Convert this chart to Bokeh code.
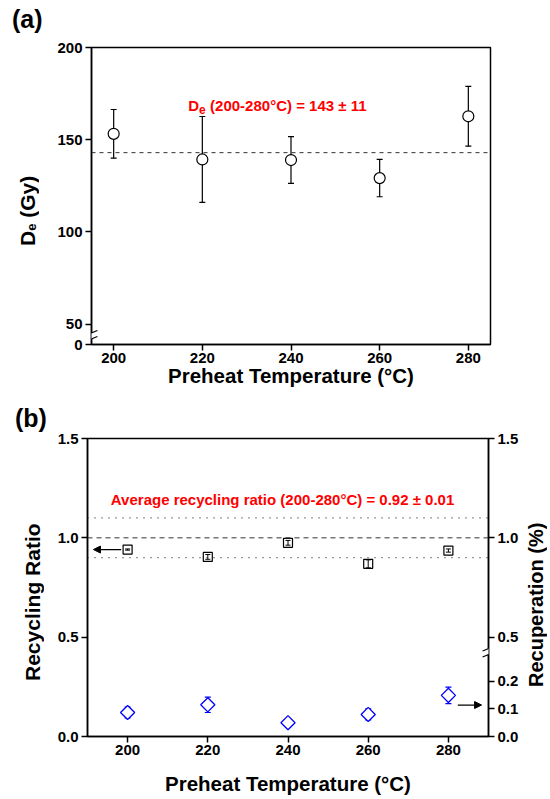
import math
from bokeh.plotting import figure
from bokeh.models import (Range1d, LinearAxis, FixedTicker, Span, Whisker, TeeHead, Label,
                          Arrow, NormalHead, ColumnDataSource, NumeralTickFormatter, Div)
from bokeh.layouts import column, row
from bokeh.embed import file_html
from bokeh.resources import INLINE

# ---------------- data ----------------
temps = [200, 220, 240, 260, 280]
de_values = [153.2, 139.3, 139.0, 129.2, 162.7]
de_errors = [13.2, 23.3, 12.7, 10.1, 16.2]
de_mean = 143
recycling = [0.941, 0.904, 0.975, 0.869, 0.936]
recycling_err = [0.003, 0.012, 0.012, 0.02, 0.008]
recuperation = [0.087, 0.115, 0.050, 0.080, 0.149]
recuperation_err = [0.02, 0.028, 0.012, 0.02, 0.03]
ratio_lines = [0.9, 1.0, 1.1]
x_ticks = [200, 220, 240, 260, 280]
de_ticks = [50, 100, 150, 200]
ratio_ticks = [0.0, 0.5, 1.0, 1.5]
recup_low_ticks = [0.0, 0.1, 0.2]
recup_high_ticks = [0.5, 1.0, 1.5]

# ---------------- layout ----------------
FONT = "Liberation Sans"
A_X = (195, 285)
A_Y = (39.0, 200)          # axis broken: bottom tick shown as "0"
B_X = (190, 290)
B_Y = (0.0, 1.5)
RECUP_SCALE = 0.72          # right-axis lower segment is stretched
RECUP_RANGE = (0.0, 1.5 * RECUP_SCALE)

FW = 406                    # frame width
YLW = 54                    # width of left title column
RLW = 27                    # width of right title column
LA, RA, TA, BA = 30, 52, 47, 54
LB, RB, TB, BB = 30, 31, 40, 62
FHA, FHB = 297, 298
WA, HA = LA + FW + RA, TA + FHA + BA
WB, HB = LB + FW + RB, TB + FHB + BB
AFX, AFY = YLW + LA, TA
BFX, BFY = YLW + LB, HA + TB


def conv(xr, yr, fx, fy, fw, fh):
    def cx(px):
        return xr[0] + (px - fx) / fw * (xr[1] - xr[0])

    def cy(py):
        return yr[1] - (py - fy) / fh * (yr[1] - yr[0])
    return cx, cy


ax_, ay_ = conv(A_X, A_Y, AFX, AFY, FW, FHA)
bx_, by_ = conv(B_X, B_Y, BFX, BFY, FW, FHB)
brx_, bry_ = conv(B_X, RECUP_RANGE, BFX, BFY, FW, FHB)


def lab(p, x, y, text, size, color="black", align="left", **kw):
    p.add_layout(Label(x=x, y=y, text=text, text_font=FONT, text_font_size=f"{size}px",
                       text_font_style="bold", text_color=color,
                       text_align=align, text_baseline="alphabetic", **kw))


def style_axis(a, standoff=3):
    a.axis_line_width = 1.5
    a.axis_line_color = "black"
    a.major_tick_line_width = 1.5
    a.major_tick_line_color = "black"
    a.major_tick_out = 6
    a.major_tick_in = 0
    a.minor_tick_out = 0
    a.minor_tick_in = 0
    a.major_label_text_font = FONT
    a.major_label_text_font_size = "15px"
    a.major_label_text_font_style = "bold"
    a.major_label_text_color = "black"
    a.major_label_standoff = standoff
    a.axis_label_text_font = FONT
    a.axis_label_text_font_size = "20.5px"
    a.axis_label_text_font_style = "bold"
    a.axis_label_text_color = "black"


def base_fig(w, h, l, r, t, b, xr, yr):
    p = figure(width=w, height=h, x_range=Range1d(*xr), y_range=Range1d(*yr), title=None,
               output_backend="svg", toolbar_location=None,
               min_border_left=l, min_border_right=r, min_border_top=t, min_border_bottom=b)
    p.xgrid.visible = False
    p.ygrid.visible = False
    p.outline_line_color = "black"
    p.outline_line_width = 1.5
    p.outline_line_alpha = 1.0
    p.background_fill_color = "white"
    p.border_fill_color = "white"
    return p


def seg(p, x0, y0, x1, y1, color="black", width=1.2, **kw):
    p.add_layout(Arrow(end=None, x_start=x0, y_start=y0, x_end=x1, y_end=y1,
                       line_color=color, line_width=width, **kw))


def axis_break(p, cxf, cyf, px_x, px_y, **kw):
    seg(p, cxf, cyf + 3 * px_y, cxf, cyf - 3 * px_y, color="white", width=3, **kw)
    for dy in (-3, 3):
        seg(p, cxf - 6 * px_x, cyf + (dy - 2.5) * px_y, cxf + 6 * px_x, cyf + (dy + 2.5) * px_y,
            width=1.1, **kw)


def title_column(width, height, head_text, head_h, head_pad, html_text, size,
                 baseline_x, center_y):
    """Html column holding an optional panel tag and a rotated (bottom-to-top) title."""
    parts = []
    top = 0
    if head_text:
        parts.append(f'<div style="height:{head_h}px;box-sizing:border-box;'
                     f'padding:{head_pad[0]}px 0 0 {head_pad[1]}px;line-height:28px;'
                     f'font-family:\'{FONT}\';font-weight:bold;font-size:25px;color:black;'
                     f'white-space:nowrap">{head_text}</div>')
        top = head_h
    w = round(size * 1.15)
    off = (w - 1.117 * size) / 2 + 0.905 * size
    ml = baseline_x - off
    h = 300
    pad = center_y - top - h / 2
    parts.append(f'<div style="padding-top:{pad:.1f}px">'
                 f'<div style="writing-mode:vertical-rl;transform:rotate(180deg);'
                 f'width:{w}px;height:{h}px;margin:0 0 0 {ml:.1f}px;padding:0;'
                 f'text-align:center;white-space:nowrap;line-height:{w}px;'
                 f'font-family:\'{FONT}\';font-weight:bold;font-size:{size}px;color:black">'
                 f'{html_text}</div></div>')
    return Div(text="".join(parts), width=width, height=height, margin=0)


# ================= panel (a) =================
pa = base_fig(WA, HA, LA, RA, TA, BA, A_X, A_Y)
style_axis(pa.xaxis[0], standoff=2)
style_axis(pa.yaxis[0])
pa.xaxis.ticker = FixedTicker(ticks=x_ticks)
pa.yaxis.ticker = FixedTicker(ticks=[A_Y[0]] + de_ticks)
pa.yaxis.major_label_overrides = {A_Y[0]: "0"}
pa.xaxis.axis_label = "Preheat Temperature (°C)"
pa.xaxis.axis_label_standoff = -2

pa.add_layout(Span(location=de_mean, dimension="width", line_dash="4 4",
                   line_color="#333333", line_width=1))

src_a = ColumnDataSource(dict(x=temps, y=de_values,
                              lo=[v - e for v, e in zip(de_values, de_errors)],
                              hi=[v + e for v, e in zip(de_values, de_errors)]))
pa.add_layout(Whisker(base="x", lower="lo", upper="hi", source=src_a, dimension="height",
                      line_color="black", line_width=1.2, level="underlay",
                      lower_head=TeeHead(size=6, line_color="black", line_width=1.2),
                      upper_head=TeeHead(size=6, line_color="black", line_width=1.2)))
pa.scatter("x", "y", source=src_a, marker="circle", size=11, fill_color="white",
           line_color="black", line_width=1.2)

pxA = (A_X[1] - A_X[0]) / FW
pyA = (A_Y[1] - A_Y[0]) / FHA
axis_break(pa, A_X[0], ay_(335.5), pxA, pyA)

# red annotation: D_e (200-280 C) = 143 +- 11
x0 = 182.5
xe = x0 + 0.722 * 15
xr_ = xe + 0.556 * 12 + 0.278 * 15 + 0.5
lab(pa, ax_(x0), ay_(105), "D", 15, color="red")
lab(pa, ax_(xe), ay_(108.5), "e", 12, color="red")
lab(pa, ax_(xr_), ay_(105), f"(200-280°C) = {de_mean} ± 11", 15, color="red")

# ================= panel (b) =================
pb = base_fig(WB, HB, LB, RB, TB, BB, B_X, B_Y)
pb.extra_y_ranges = {"recup": Range1d(*RECUP_RANGE)}
style_axis(pb.xaxis[0], standoff=2)
style_axis(pb.yaxis[0])
pb.xaxis.ticker = FixedTicker(ticks=x_ticks)
pb.yaxis.ticker = FixedTicker(ticks=ratio_ticks)
pb.yaxis.formatter = NumeralTickFormatter(format="0.0")
pb.xaxis.axis_label = "Preheat Temperature (°C)"
pb.xaxis.axis_label_standoff = 14

ax_r = LinearAxis(y_range_name="recup")
style_axis(ax_r)
high_pos = [v * RECUP_SCALE for v in recup_high_ticks]
ax_r.ticker = FixedTicker(ticks=recup_low_ticks + high_pos)
ax_r.formatter = NumeralTickFormatter(format="0.0")
ax_r.major_label_overrides = {hp: f"{v:.1f}" for hp, v in zip(high_pos, recup_high_ticks)}
pb.add_layout(ax_r, "right")

pb.add_layout(Span(location=ratio_lines[0], dimension="width", line_dash="1 6",
                   line_color="#333333", line_width=1.2))
pb.add_layout(Span(location=ratio_lines[2], dimension="width", line_dash="1 6",
                   line_color="#333333", line_width=1.2))
pb.add_layout(Span(location=ratio_lines[1], dimension="width", line_dash="5 4",
                   line_color="#333333", line_width=1))

src_r = ColumnDataSource(dict(x=temps, y=recycling,
                              lo=[v - e for v, e in zip(recycling, recycling_err)],
                              hi=[v + e for v, e in zip(recycling, recycling_err)]))
pb.scatter("x", "y", source=src_r, marker="square", size=9, fill_alpha=0,
           line_color="black", line_width=1.2)
pb.add_layout(Whisker(base="x", lower="lo", upper="hi", source=src_r, dimension="height",
                      line_color="black", line_width=1,
                      lower_head=TeeHead(size=5, line_color="black", line_width=1),
                      upper_head=TeeHead(size=5, line_color="black", line_width=1)))

src_c = ColumnDataSource(dict(x=temps, y=recuperation,
                              lo=[v - e for v, e in zip(recuperation, recuperation_err)],
                              hi=[v + e for v, e in zip(recuperation, recuperation_err)]))
pb.add_layout(Whisker(base="x", lower="lo", upper="hi", source=src_c, dimension="height",
                      y_range_name="recup", line_color="blue", line_width=1.2, level="underlay",
                      lower_head=TeeHead(size=6, line_color="blue", line_width=1.2),
                      upper_head=TeeHead(size=6, line_color="blue", line_width=1.2)))
pb.scatter("x", "y", source=src_c, y_range_name="recup", marker="square", angle=math.pi / 4,
           size=10, fill_color="white", line_color="blue", line_width=1.3)

pxB = (B_X[1] - B_X[0]) / FW
pyR = (RECUP_RANGE[1] - RECUP_RANGE[0]) / FHB
pb.add_layout(Arrow(end=NormalHead(size=7, fill_color="black", line_color="black"),
                    x_start=temps[0] - 6.5 * pxB, y_start=recycling[0],
                    x_end=B_X[0] + 6 * pxB, y_end=recycling[0],
                    line_color="black", line_width=1.2))
arrow_y = 0.114
pb.add_layout(Arrow(end=NormalHead(size=7, fill_color="black", line_color="black"),
                    x_start=temps[-1] + 9.5 * pxB, y_start=arrow_y,
                    x_end=B_X[1] - 7 * pxB, y_end=arrow_y, y_range_name="recup",
                    line_color="black", line_width=1.2))

axis_break(pb, B_X[1], bry_(651), pxB, pyR, y_range_name="recup")

lab(pb, bx_(281.5), by_(499), "Average recycling ratio (200-280°C) = 0.92 ± 0.01", 15,
    color="red", align="center")

# ---------------- html title columns ----------------
ya_div = title_column(YLW, HA, "(a)", 38, (5, 12),
                      'D<sub style="font-size:13px;vertical-align:-4px;line-height:0">e</sub> (Gy)',
                      21, 35, 211)
yb_div = title_column(YLW, HB, "(b)", 40, (6, 15), "Recycling Ratio", 21, 40, 602 - HA)
yr_div = title_column(RLW, HB, None, 0, (0, 0), "Recuperation (%)", 20,
                      543.5 - (YLW + WB), 605 - HA)

layout = column(row(ya_div, pa, spacing=0), row(yb_div, pb, yr_div, spacing=0), spacing=0)
open("out.html", "w").write(file_html(layout, INLINE))
